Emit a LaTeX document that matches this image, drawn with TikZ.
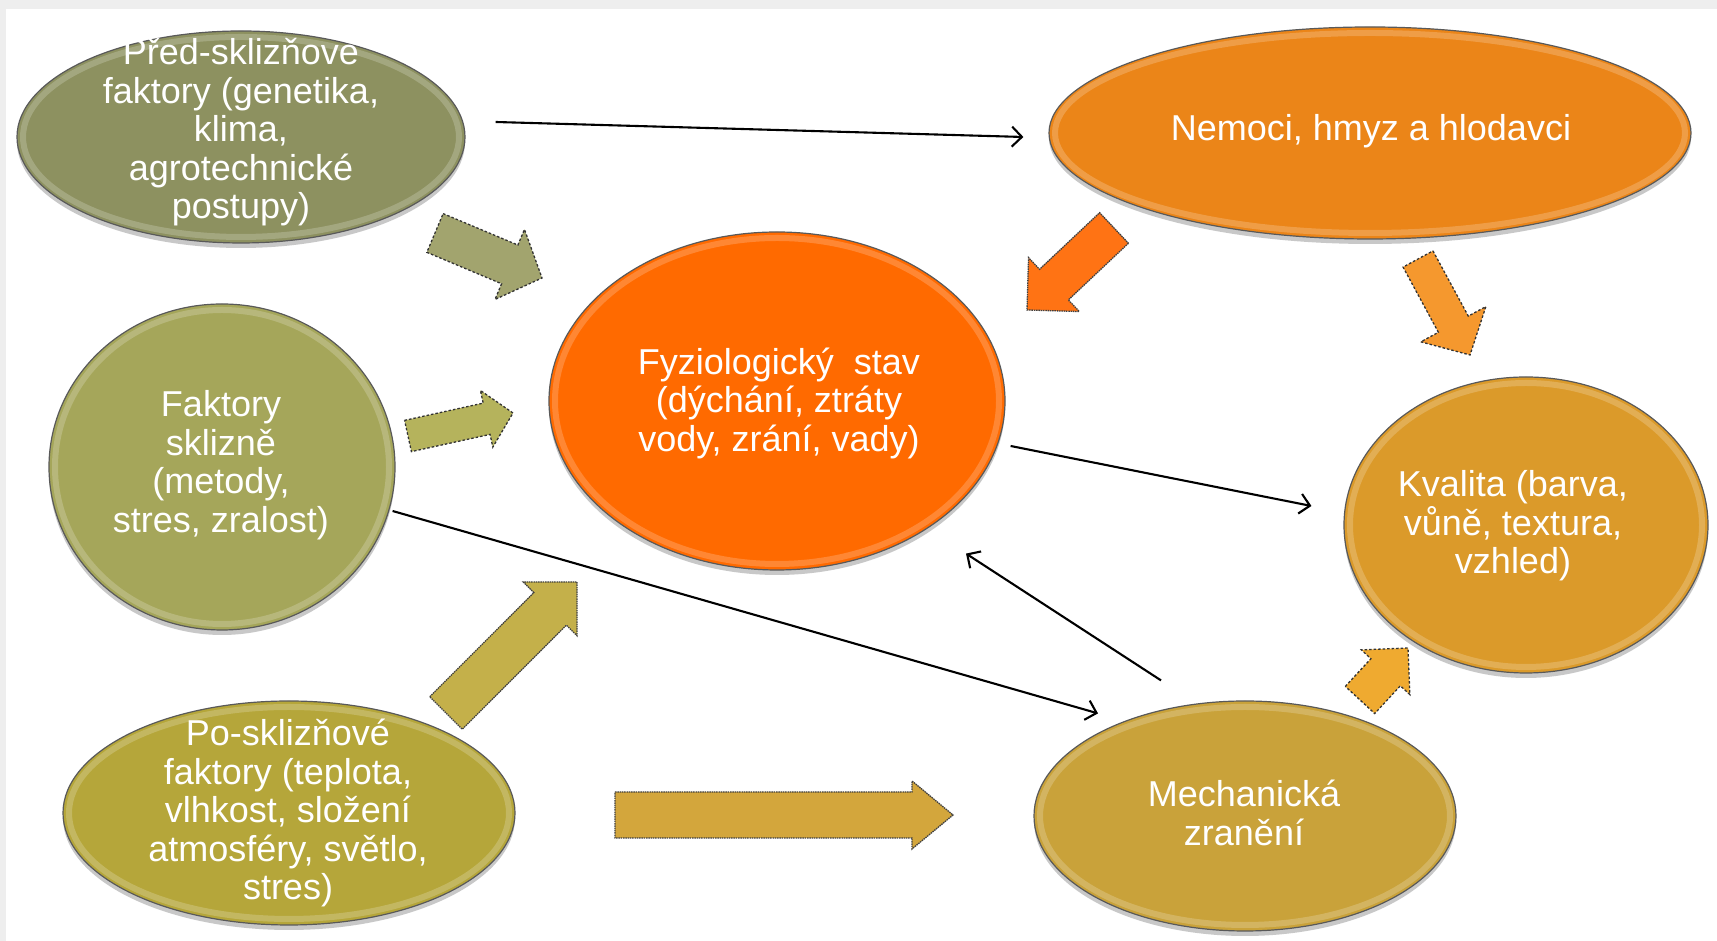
\documentclass[tikz,border=0pt]{standalone}
\usepackage{fontspec}
\setmainfont{Liberation Sans}
\usetikzlibrary{calc,shapes.geometric,arrows.meta,shadows}

\definecolor{cPre}{HTML}{8D9160}
\definecolor{cFak}{HTML}{A5A65A}
\definecolor{cPo}{HTML}{B5A63A}
\definecolor{cFyz}{HTML}{FF6A00}
\definecolor{cNem}{HTML}{EB8518}
\definecolor{cKva}{HTML}{DB9A2A}
\definecolor{cMech}{HTML}{C9A23A}
\definecolor{aA}{HTML}{A2A46E}
\definecolor{aB}{HTML}{B5B35C}
\definecolor{aC}{HTML}{C4B04A}
\definecolor{aD}{HTML}{D3A63C}
\definecolor{aE}{HTML}{FF7314}
\definecolor{aF}{HTML}{F5982E}
\definecolor{aG}{HTML}{EFAA30}
\definecolor{bgGray}{HTML}{EEEEEE}

% #1 style, #2 tail, #3 tip, #4 shaft half width, #5 head half width, #6 head length (all in pt)
\newcommand\blockarrow[6]{%
  \coordinate (bah) at ($#3!#6pt!#2$);
  \draw[#1] ($#2!#4pt!90:#3$) -- ($(bah)!#4pt!90:#3$) -- ($(bah)!#5pt!90:#3$) -- #3
    -- ($(bah)!#5pt!-90:#3$) -- ($(bah)!#4pt!-90:#3$) -- ($#2!#4pt!-90:#3$) -- cycle;
}
% inner light rim of an ellipse node
\newcommand\rimlight[3]{%
  \draw[white, opacity=.2, line width=6pt] (#1.center) ellipse [x radius=#2-6, y radius=#3-6];
}

\begin{document}
\begin{tikzpicture}[x=1pt,y=1pt,
  ell/.style={ellipse, inner sep=0pt, draw=black!65, line width=1.2pt,
    drop shadow={shadow xshift=0pt, shadow yshift=-5pt, opacity=.3, fill=black!70}},
  txt/.style={text=white, align=center, inner sep=0pt, font=\fontsize{36}{38.5}\selectfont},
  conn/.style={line width=2.1pt, -{Straight Barb[length=10pt,width=20pt]}},
  blkdash/.style={line width=1.3pt, draw=black!80, dash pattern=on 2.5pt off 2pt},
  blksolid/.style={line width=1.3pt, draw=black!75, dash pattern=on 1.5pt off 0.8pt}
]
\useasboundingbox (0,0) rectangle (1717,941);
\fill[bgGray] (0,0) rectangle (1717,941);
\fill[white] (6,0) rectangle (1717,932);

% ellipses
\node[ell, fill=cPre, minimum width=448, minimum height=212] (pre) at (241,804) {};
\node[ell, fill=cFak, minimum width=346, minimum height=326] (fak) at (222,474) {};
\node[ell, fill=cPo, minimum width=452, minimum height=224] (po) at (289,128) {};
\node[ell, fill=cFyz, minimum width=456, minimum height=338] (fyz) at (777,540) {};
\node[ell, fill=cNem, minimum width=642, minimum height=212] (nem) at (1370,808) {};
\node[ell, fill=cKva, minimum width=364, minimum height=296] (kva) at (1526,416) {};
\node[ell, fill=cMech, minimum width=422, minimum height=230] (mech) at (1245,125) {};

\rimlight{pre}{224}{106}
\rimlight{fak}{173}{163}
\rimlight{po}{226}{112}
\rimlight{fyz}{228}{169}
\rimlight{nem}{321}{106}
\rimlight{kva}{182}{148}
\rimlight{mech}{211}{115}

% texts
\node[txt] (preT) at (241,809) {Před-sklizňové\\faktory (genetika,\\klima,\\agrotechnické\\postupy)};
\node[txt] (fakT) at (221,476) {Faktory\\sklizně\\(metody,\\stres, zralost)};
\node[txt] (poT) at (288,128) {Po-sklizňové\\faktory (teplota,\\vlhkost, složení\\atmosféry, světlo,\\stres)};
\node[txt] (fyzT) at (779,538) {Fyziologický\ \ stav\\(dýchání, ztráty\\vody, zrání, vady)};
\node[txt] (nemT) at (1371,810) {Nemoci, hmyz a hlodavci};
\node[txt] (kvaT) at (1513,415) {Kvalita (barva,\\vůně, textura,\\vzhled)};
\node[txt] (mechT) at (1244,128) {Mechanická\\zranění};

% block arrows
\blockarrow{blkdash, fill=aA}{(435,708)}{(542,663)}{21}{38}{35}
\blockarrow{blkdash, fill=aB}{(408,505)}{(513,528)}{16}{29}{27}
\blockarrow{blksolid, fill=aC}{(446,228)}{(577,359)}{23}{38}{38}
\blockarrow{blksolid, fill=aD}{(615,126)}{(953,126)}{23}{34}{41}
\blockarrow{blksolid, fill=aE}{(1114,713)}{(1027,631)}{21}{37}{37}
\blockarrow{blkdash, fill=aF}{(1418,682)}{(1470,586)}{17}{37}{35}
\blockarrow{blkdash, fill=aG}{(1360,241)}{(1408,293)}{20}{33}{33}

% thin connectors
\draw[conn] ($(pre.east)+(30,15)$) -- ($(nem.west)+(-25,-4)$);
\draw[conn] ($(fyz.east)+(5,-45)$) -- ($(kva.west)+(-32,19)$);
\draw[conn] ($(fak.east)+(-3,-44)$) -- ($(mech.north)+(-147,-13)$);
\draw[conn] ($(mech.north)+(-84,20)$) -- ($(fyz.south)+(189,17)$);
\end{tikzpicture}
\end{document}
